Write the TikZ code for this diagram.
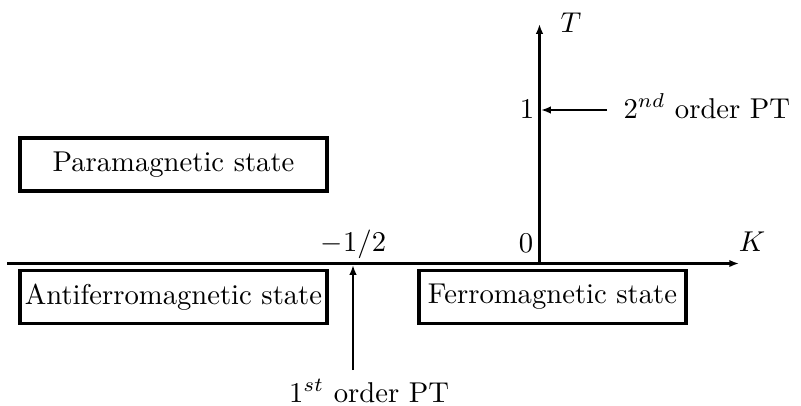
\documentclass[tikz,border=0pt]{standalone}
\usetikzlibrary{arrows.meta}
\begin{document}
\begin{tikzpicture}[x=0.349pt,y=-0.349pt,
  axis/.style={line width=0.95pt,-{Latex[length=3.4pt,width=2.6pt]}},
  ptarrow/.style={line width=0.95pt,-{Latex[length=3.4pt,width=2.6pt]}},
  statebox/.style={draw,line width=1.1pt,minimum height=53*0.349pt,inner sep=0pt,font=\fontsize{10}{12}\selectfont},
  lbl/.style={inner sep=0pt,font=\fontsize{10}{12}\selectfont}]
\useasboundingbox (0,0) rectangle (801,405);
% axes
\coordinate (kstart) at (7,263.5);
\coordinate (kend) at (739,263.5);
\coordinate (origin) at (539.5,263.5);
\coordinate (tend) at (539.5,24);
\draw[axis] (kstart) -- (kend);
\draw[axis] (origin) -- (tend);
% axis labels
\node[lbl,anchor=base] (T) at (571,32) {$T$};
\node[lbl,anchor=base] (K) at (752,251) {$K$};
\node[lbl,anchor=base] (zero) at (526,252) {$0$};
\node[lbl,anchor=base] (one) at (527,118) {$1$};
\node[lbl,anchor=base] (half) at (353.5,251) {$-1/2$};
% state boxes
\node[statebox,minimum width=307*0.349pt] (para) at (173.5,164.5) {Paramagnetic state};
\node[statebox,minimum width=307*0.349pt] (anti) at (173.5,297) {Antiferromagnetic state};
\node[statebox,minimum width=267*0.349pt] (ferro) at (552.5,297) {Ferromagnetic state};
% phase transition labels and arrows
\node[lbl,anchor=base west] (second) at (623,118) {$2^{nd}$ order PT};
\coordinate (sA) at (607,110);
\coordinate (sB) at (541,110);
\draw[ptarrow] (sA) -- (sB);
\node[lbl,anchor=base] (first) at (369,402) {$1^{st}$ order PT};
\coordinate (fA) at (353,370);
\coordinate (fB) at (353,265);
\draw[ptarrow] (fA) -- (fB);
\end{tikzpicture}
\end{document}
